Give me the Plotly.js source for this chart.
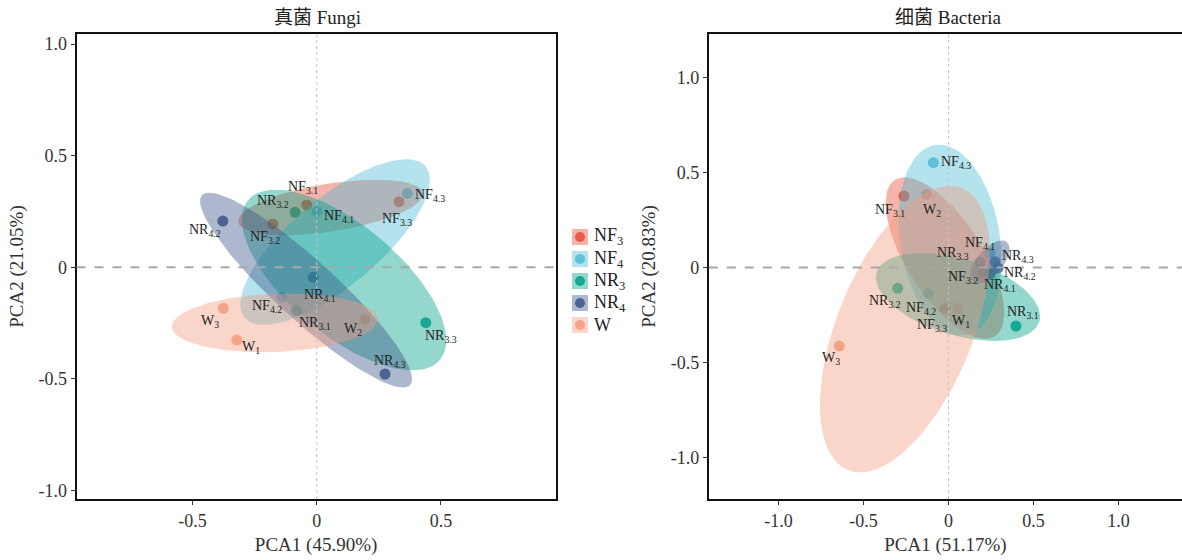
<!DOCTYPE html>
<html>
<head>
<meta charset="utf-8">
<script src="https://cdn.plot.ly/plotly-3.0.1.min.js"></script>
<style>html,body{margin:0;padding:0;background:#fff;}#chart{width:1182px;height:560px;}</style>
</head>
<body>
<div id="chart"></div>
<script>
// ---- categories ----
const groups = ['NF3', 'NF4', 'NR3', 'NR4', 'W'];
const groupLabels = ['NF<sub>3</sub>', 'NF<sub>4</sub>', 'NR<sub>3</sub>', 'NR<sub>4</sub>', 'W'];
const groupColors = ['#E64B35', '#4DBBD5', '#00A087', '#3C5488', '#F39B7F'];

const sampleNames = ['NF3.1','NF3.2','NF3.3','NF4.1','NF4.2','NF4.3','NR3.1','NR3.2','NR3.3','NR4.1','NR4.2','NR4.3','W1','W2','W3'];
const sampleLabels = ['NF<sub>3.1</sub>','NF<sub>3.2</sub>','NF<sub>3.3</sub>','NF<sub>4.1</sub>','NF<sub>4.2</sub>','NF<sub>4.3</sub>',
  'NR<sub>3.1</sub>','NR<sub>3.2</sub>','NR<sub>3.3</sub>','NR<sub>4.1</sub>','NR<sub>4.2</sub>','NR<sub>4.3</sub>',
  'W<sub>1</sub>','W<sub>2</sub>','W<sub>3</sub>'];
const sampleGroup = ['NF3','NF3','NF3','NF4','NF4','NF4','NR3','NR3','NR3','NR4','NR4','NR4','W','W','W'];

// ---- Fungi PCA scores ----
const fungiPC1 = [-0.040, -0.177, 0.331, 0.000, -0.141, 0.365, -0.081, -0.087, 0.439, -0.014, -0.378, 0.275, -0.322, 0.194, -0.376];
const fungiPC2 = [0.279, 0.194, 0.294, 0.249, -0.134, 0.331, -0.194, 0.246, -0.248, -0.045, 0.207, -0.478, -0.326, -0.233, -0.184];

// ---- Bacteria PCA scores ----
const bactPC1 = [-0.262, 0.203, -0.021, 0.244, -0.119, -0.089, 0.397, -0.299, 0.185, 0.244, 0.291, 0.274, 0.058, -0.128, -0.642];
const bactPC2 = [0.376, -0.024, -0.215, 0.076, -0.136, 0.552, -0.308, -0.109, 0.029, -0.034, -0.003, 0.031, -0.215, 0.385, -0.413];

// ---- ellipse parameters per group (centre, two conjugate semi-axes), data units ----
const fungiEllCx = [0.056, 0.074, 0.110, -0.043, -0.168];
const fungiEllCy = [0.268, 0.113, -0.057, -0.102, -0.249];
const fungiEllUx = [0.372, 0.364, 0.386, 0.419, 0.415];
const fungiEllUy = [0.065, 0.339, -0.358, -0.425, 0.018];
const fungiEllVx = [0.015, 0.114, 0.142, 0.081, 0.004];
const fungiEllVy = [-0.106, -0.151, 0.189, 0.099, -0.130];

const bactEllCx = [-0.021, 0.009, 0.056, 0.244, -0.256];
const bactEllCy = [0.050, 0.145, -0.155, 0.029, -0.324];
const bactEllUx = [0.294, -0.088, 0.479, 0.100, 0.335];
const bactEllUy = [-0.411, 0.500, -0.129, 0.105, 0.742];
const bactEllVx = [0.188, 0.290, -0.065, 0.058, 0.371];
const bactEllVy = [0.108, 0.041, -0.192, -0.044, -0.134];

// ---- tick labels ----
const fungiXTicks = [-0.5, 0, 0.5];
const fungiXTickText = ['-0.5', '0', '0.5'];
const fungiYTicks = [-1, -0.5, 0, 0.5, 1];
const fungiYTickText = ['-1.0', '-0.5', '0', '0.5', '1.0'];
const bactXTicks = [-1, -0.5, 0, 0.5, 1];
const bactXTickText = ['-1.0', '-0.5', '0', '0.5', '1.0'];
const bactYTicks = [-1, -0.5, 0, 0.5, 1];
const bactYTickText = ['-1.0', '-0.5', '0', '0.5', '1.0'];

// ---- label offsets (pixels, label placement only) ----
const fungiLabelDx = [-4, -8, -2, 22, -15, 23, 18, -22, 15, 7, -18, 5, 14, -12, -13];
const fungiLabelDy = [-18, 14, 18, 5, 9, 2, 13, -11, 14, 18, 9, -12, 7, 10, 13];
const bactLabelDx = [-14, -20, -13, -10, -7, 23, 7, -13, -27, 10, 22, 23, 3, 5, -8];
const bactLabelDy = [14, 5, 17, -10, 15, 0, -14, 13, -9, 11, 5, -5, 13, 16, 12];

const SERIF = 'Liberation Serif, Noto Sans CJK SC, serif';

function rgba(hex, a) {
  const r = parseInt(hex.slice(1,3),16), g = parseInt(hex.slice(3,5),16), b = parseInt(hex.slice(5,7),16);
  return `rgba(${r},${g},${b},${a})`;
}
function ellipse(cx, cy, ux, uy, vx, vy) {
  const xs = [], ys = [];
  for (let i = 0; i <= 120; i++) {
    const t = 2 * Math.PI * i / 120;
    xs.push(cx + ux * Math.cos(t) + vx * Math.sin(t));
    ys.push(cy + uy * Math.cos(t) + vy * Math.sin(t));
  }
  return {xs, ys};
}

const traces = [];
const annotations = [];

function buildPanel(pc1, pc2, ecx, ecy, eux, euy, evx, evy, ldx, ldy, xa, ya) {
  groups.forEach((g, gi) => {
    const xs = [], ys = [];
    sampleGroup.forEach((sg, i) => { if (sg === g) { xs.push(pc1[i]); ys.push(pc2[i]); } });
    traces.push({
      type: 'scatter', mode: 'markers', x: xs, y: ys, xaxis: xa, yaxis: ya,
      marker: {size: 11, color: groupColors[gi], opacity: 0.85},
      showlegend: false, hoverinfo: 'skip'
    });
  });
  groups.forEach((g, gi) => {
    const e = ellipse(ecx[gi], ecy[gi], eux[gi], euy[gi], evx[gi], evy[gi]);
    traces.push({
      type: 'scatter', mode: 'lines', x: e.xs, y: e.ys, xaxis: xa, yaxis: ya,
      fill: 'toself', fillcolor: rgba(groupColors[gi], 0.42),
      line: {width: 0, color: 'rgba(0,0,0,0)'},
      showlegend: false, hoverinfo: 'skip'
    });
  });
  sampleNames.forEach((n, i) => {
    annotations.push({
      x: pc1[i], y: pc2[i], xref: xa, yref: ya, text: sampleLabels[i], showarrow: false,
      xanchor: 'center', yanchor: 'middle',
      xshift: ldx[i], yshift: -ldy[i],
      font: {family: SERIF, size: 14, color: '#222'}
    });
  });
}

buildPanel(fungiPC1, fungiPC2, fungiEllCx, fungiEllCy, fungiEllUx, fungiEllUy, fungiEllVx, fungiEllVy, fungiLabelDx, fungiLabelDy, 'x', 'y');
buildPanel(bactPC1, bactPC2, bactEllCx, bactEllCy, bactEllUx, bactEllUy, bactEllVx, bactEllVy, bactLabelDx, bactLabelDy, 'x2', 'y2');

const W = 1182, H = 560, T = 34, B = 61;
const plotH = H - T - B;
function py(p) { return (H - B - p) / plotH; }

// panel titles
annotations.push({x: 317 / W, y: py(18), xref: 'paper', yref: 'paper', xanchor: 'center', yanchor: 'middle',
  text: '真菌 Fungi', showarrow: false, font: {family: SERIF, size: 19, color: '#222'}});
annotations.push({x: 948 / W, y: py(18), xref: 'paper', yref: 'paper', xanchor: 'center', yanchor: 'middle',
  text: '细菌 Bacteria', showarrow: false, font: {family: SERIF, size: 19, color: '#222'}});

// legend (drawn by hand to mimic key boxes)
const shapes = [];
groups.forEach((g, gi) => {
  const cy = 237 + gi * 22;
  shapes.push({type: 'rect', xref: 'paper', yref: 'paper', x0: 572 / W, x1: 588 / W, y0: py(cy + 8), y1: py(cy - 8),
    fillcolor: rgba(groupColors[gi], 0.42), line: {width: 0}});
  shapes.push({type: 'circle', xref: 'paper', yref: 'paper', x0: 575 / W, x1: 585 / W, y0: py(cy + 5), y1: py(cy - 5),
    fillcolor: groupColors[gi], opacity: 0.85, line: {width: 0}});
  annotations.push({x: 592 / W, y: py(cy), xref: 'paper', yref: 'paper', xanchor: 'left', yanchor: 'middle',
    text: groupLabels[gi], showarrow: false, font: {family: SERIF, size: 18, color: '#222'}});
});

// reference lines
[['x','y'],['x2','y2']].forEach(([xa, ya]) => {
  shapes.push({type: 'line', xref: xa + ' domain', x0: 0, x1: 1, yref: ya, y0: 0, y1: 0,
    line: {color: '#a8a8a8', width: 2, dash: 'dash'}});
  shapes.push({type: 'line', xref: xa, x0: 0, x1: 0, yref: ya + ' domain', y0: 0, y1: 1,
    line: {color: '#c4c4c4', width: 1, dash: 'dot'}});
});

const axisCommon = {
  showgrid: false, zeroline: false, showline: true, linecolor: '#111', linewidth: 2,
  ticks: 'outside', ticklen: 4, tickwidth: 1, tickcolor: '#333',
  tickfont: {family: SERIF, size: 18, color: '#333'}, tickmode: 'array'
};

const layout = {
  width: W, height: H,
  margin: {l: 0, r: 0, t: T, b: B},
  paper_bgcolor: '#fff', plot_bgcolor: '#fff',
  showlegend: false,
  font: {family: SERIF},
  xaxis: Object.assign({}, axisCommon, {domain: [76.5 / W, 555.7 / W], range: [-0.967, 0.962], mirror: true,
    tickvals: fungiXTicks, ticktext: fungiXTickText, anchor: 'y',
    title: {text: 'PCA1 (45.90%)', font: {family: SERIF, size: 19, color: '#333'}, standoff: 8}}),
  yaxis: Object.assign({}, axisCommon, {domain: [0, 1], range: [-1.038, 1.045], mirror: true,
    tickvals: fungiYTicks, ticktext: fungiYTickText, anchor: 'x',
    title: {text: 'PCA2 (21.05%)', font: {family: SERIF, size: 19, color: '#333'}, standoff: 10}}),
  xaxis2: Object.assign({}, axisCommon, {domain: [708.8 / W, 1], range: [-1.41, 1.374], mirror: true,
    tickvals: bactXTicks, ticktext: bactXTickText, anchor: 'y2',
    title: {text: 'PCA1 (51.17%)', font: {family: SERIF, size: 19, color: '#333'}, standoff: 8}}),
  yaxis2: Object.assign({}, axisCommon, {domain: [0, 1], range: [-1.218, 1.229], mirror: false,
    tickvals: bactYTicks, ticktext: bactYTickText, anchor: 'x2',
    title: {text: 'PCA2 (20.83%)', font: {family: SERIF, size: 19, color: '#333'}, standoff: 10}}),
  shapes: shapes,
  annotations: annotations
};

Plotly.newPlot('chart', traces, layout, {displayModeBar: false, staticPlot: true});
</script>
</body>
</html>
